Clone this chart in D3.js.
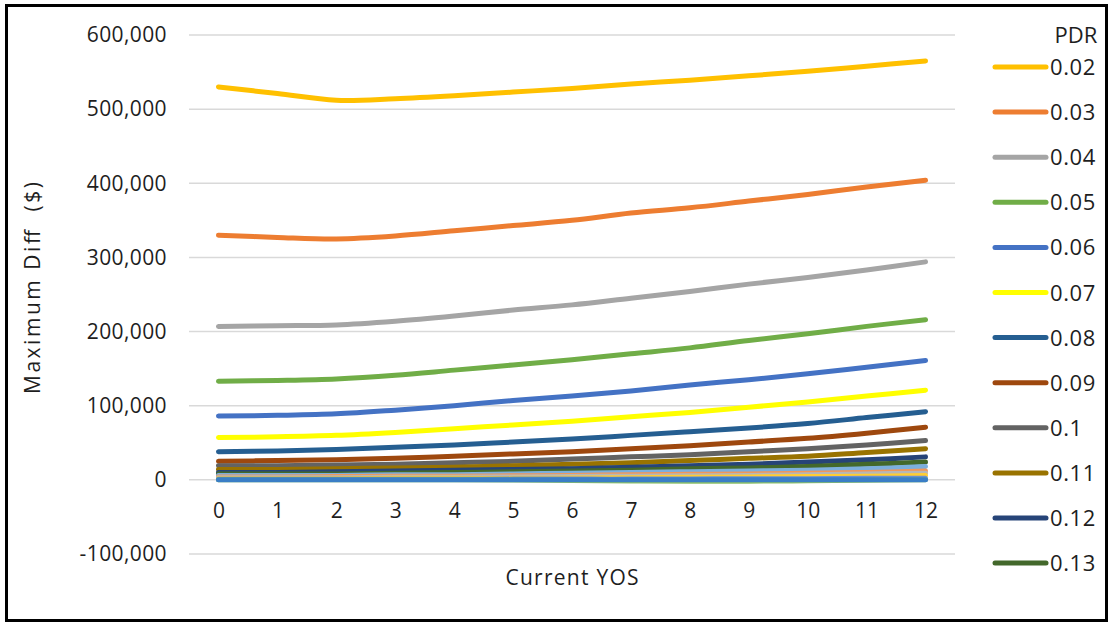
<!DOCTYPE html>
<html><head><meta charset="utf-8">
<script src="https://cdn.jsdelivr.net/npm/d3@7"></script>
<style>
html,body{margin:0;padding:0;background:#fff;}
text{font-family:"Open Sans","Noto Sans",sans-serif;fill:#1e1e1e;}
</style></head>
<body><svg id="c" width="1112" height="624"></svg>
<script>
const years = [0,1,2,3,4,5,6,7,8,9,10,11,12];
const yTicks = [-100000,0,100000,200000,300000,400000,500000,600000];
const pdrLabels = ["0.02","0.03","0.04","0.05","0.06","0.07","0.08","0.09","0.1","0.11","0.12","0.13","0.14","0.15","0.16","0.17","0.18","0.19","0.2"];
const colors = ["#FFC000","#ED7D31","#A5A5A5","#70AD47","#4472C4","#FFFF00","#255E91","#9E480E","#636363","#997300","#264478","#43682B","#7CAFDD","#F1975A","#B7B7B7","#FFCD33","#698ED0","#8CC168","#3A7EC6"];
const legendCount = 12;
// values in dollars, one array per PDR
const s002 = [530000,521000,512000,514000,518000,523000,528000,534000,539000,545000,551000,558000,565000];
const s003 = [330000,327000,325000,329000,336000,343000,350000,360000,367000,376000,385000,395000,404000];
const s004 = [207000,208000,209000,214000,221000,229000,236000,245000,254000,264000,273000,283000,294000];
const s005 = [133000,134000,136000,141000,148000,155000,162000,170000,178000,188000,197000,207000,216000];
const s006 = [86000,87000,89000,94000,100000,107000,113000,120000,128000,135000,143000,152000,161000];
const s007 = [57000,58000,60000,64000,69000,74000,79000,85000,91000,98000,105000,113000,121000];
const s008 = [38000,39000,41000,44000,47000,51000,55000,60000,65000,70000,76000,84000,92000];
const s009 = [25000,26000,27000,29000,32000,35000,38000,42000,46000,51000,56000,63000,71000];
const s010 = [19000,19000,20000,21000,23000,25000,28000,31000,34000,38000,42000,47000,53000];
const s011 = [14000,14000,15000,16000,17000,19000,21000,23000,26000,29000,32000,37000,42000];
const s012 = [10000,10000,11000,12000,13000,14000,15000,17000,19000,21000,24000,27000,31000];
const s013 = [8000,8000,8000,9000,10000,11000,12000,13000,15000,16000,18000,21000,24000];
const s014 = [6000,6000,6000,7000,7000,8000,9000,10000,11000,12000,13000,15000,18000];
const s015 = [4000,4000,4500,5000,5000,5500,6000,7000,7500,8000,9000,10000,12000];
const s016 = [3000,3000,3000,3500,3500,4000,4500,5000,5500,6000,7000,8000,9000];
const s017 = [1500,1500,1500,2000,2000,2000,2500,3000,3500,4000,4500,5000,6000];
const s018 = [800,800,800,800,800,1000,1000,1000,1200,1500,1500,2000,2000];
const s019 = [0,0,0,0,0,-300,-800,-1500,-2000,-1800,-1200,-500,0];
const s020 = [0,0,0,0,0,0,0,0,0,0,0,0,0];
const seriesValues = [s002,s003,s004,s005,s006,s007,s008,s009,s010,s011,s012,s013,s014,s015,s016,s017,s018,s019,s020];

const svg = d3.select("#c");
const x = d3.scalePoint().domain(years).range([189,955]).padding(0.5);
const y = d3.scaleLinear().domain([-100000,600000]).range([554,35]);

// frame
svg.append("rect").attr("x",6.5).attr("y",5.5).attr("width",1100).attr("height",615)
  .attr("fill","none").attr("stroke","#000").attr("stroke-width",3);

// gridlines
svg.append("g").selectAll("line").data(yTicks).join("line")
  .attr("x1",189).attr("x2",955).attr("y1",d=>y(d)).attr("y2",d=>y(d))
  .attr("stroke","#d9d9d9").attr("stroke-width",1.5);

// y axis labels
const yAxis = d3.axisLeft(y).tickValues(yTicks).tickSize(0).tickPadding(0)
  .tickFormat(d=>d3.format(",")(d).replace("−","-"));
const gy = svg.append("g").attr("transform","translate(167,0)").call(yAxis);
gy.select(".domain").remove();
gy.selectAll("text").attr("font-size",21).attr("letter-spacing",0.4).attr("fill","#1e1e1e").style("font-family","'Open Sans'");

// x axis labels
const xAxis = d3.axisBottom(x).tickSize(0).tickPadding(0);
const gx = svg.append("g").attr("transform","translate(0,503)").call(xAxis);
gx.select(".domain").remove();
gx.selectAll("text").attr("font-size",21).attr("fill","#1e1e1e").style("font-family","'Open Sans'");

// lines
const line = d3.line().x((d,i)=>x(years[i])).y(d=>y(d)).curve(d3.curveCatmullRom.alpha(0.5));
svg.append("g").selectAll("path").data(seriesValues).join("path")
  .attr("d",d=>line(d)).attr("fill","none")
  .attr("stroke",(d,i)=>colors[i]).attr("stroke-width",5)
  .attr("stroke-linecap","round").attr("stroke-linejoin","round");

// axis titles
svg.append("text").attr("transform","translate(40,288) rotate(-90)")
  .attr("text-anchor","middle").attr("font-size",21)
  .attr("textLength",212).attr("lengthAdjust","spacing")
  .text("Maximum Diff\u00A0\u00A0($)");
svg.append("text").attr("x",572).attr("y",585).attr("text-anchor","middle")
  .attr("font-size",21).attr("textLength",133).attr("lengthAdjust","spacing").text("Current YOS");

// legend
svg.append("text").attr("x",1076).attr("y",43).attr("text-anchor","middle").attr("font-size",22).text("PDR");
const lg = svg.append("g").selectAll("g").data(pdrLabels.slice(0,legendCount)).join("g")
  .attr("transform",(d,i)=>`translate(0,${67+i*45.1})`);
lg.append("line").attr("x1",995).attr("x2",1046).attr("y1",0).attr("y2",0)
  .attr("stroke",(d,i)=>colors[i]).attr("stroke-width",5).attr("stroke-linecap","round");
lg.append("text").attr("x",1050).attr("y",8).attr("font-size",22).attr("letter-spacing",0.6).text(d=>d);
</script></body></html>
